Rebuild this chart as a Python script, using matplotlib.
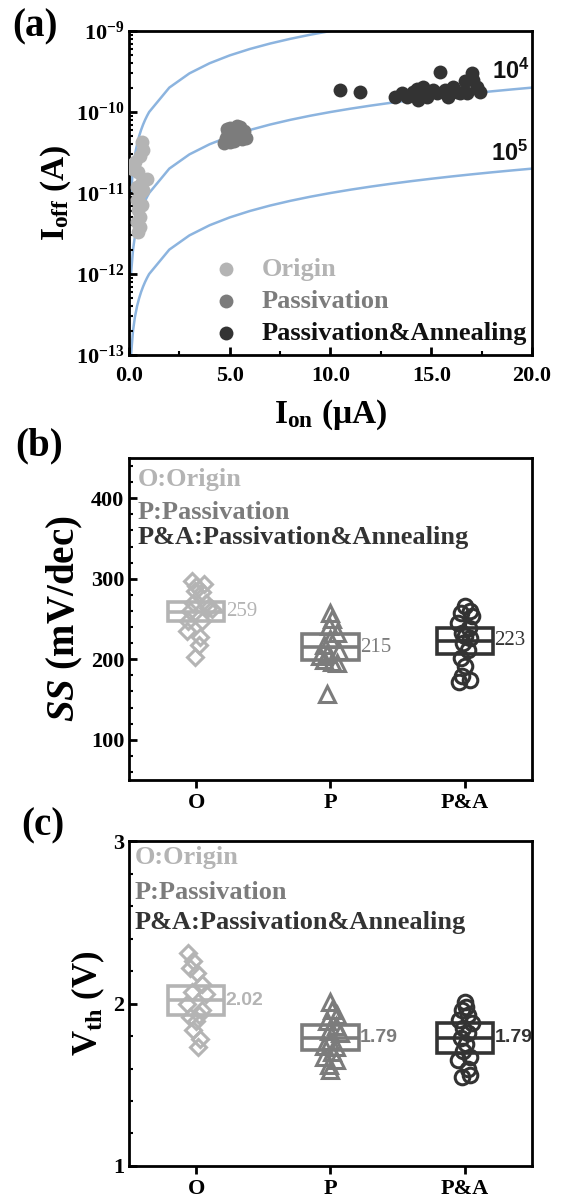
import matplotlib
matplotlib.use('Agg')
import matplotlib.pyplot as plt
import numpy as np
from matplotlib.ticker import LogLocator, MultipleLocator, LogFormatterMathtext, NullFormatter, FormatStrFormatter

plt.rcParams.update({
    'font.family': 'Liberation Serif',
    'font.weight': 'bold',
    'axes.labelweight': 'bold',
    'mathtext.fontset': 'custom',
    'mathtext.rm': 'Liberation Serif:bold',
    'mathtext.it': 'Liberation Serif:italic:bold',
    'mathtext.bf': 'Liberation Serif:bold',
    'mathtext.sf': 'Liberation Sans:bold',
    'axes.linewidth': 2.0,
})

# ---- panel (a) data: Ion (uA) vs Ioff (A)
origin_ion = [0.63, 0.71, 0.55, 0.30, 0.21, 0.46, 0.88, 0.63, 0.38, 0.55, 0.38, 0.63, 0.46, 0.55, 0.38, 0.55, 0.46, 0.13, 0.71]
origin_ioff = [4.3e-11, 3.4e-11, 2.9e-11, 2.4e-11, 2.0e-11, 1.8e-11, 1.5e-11, 1.38e-11, 1.2e-11, 1.0e-11,
               8.2e-12, 7.1e-12, 6.1e-12, 5.1e-12, 4.4e-12, 3.8e-12, 3.3e-12, 2.2e-11, 1.1e-11]
pass_ion = [4.7, 4.8, 4.9, 5.0, 5.1, 5.2, 5.3, 5.4, 5.5, 5.6, 5.7, 5.8, 5.0, 5.35, 4.85]
pass_ioff = [4.2e-11, 4.8e-11, 5.6e-11, 6.4e-11, 5.0e-11, 4.4e-11, 6.0e-11, 5.3e-11, 6.6e-11, 4.6e-11,
             5.8e-11, 4.8e-11, 4.3e-11, 6.8e-11, 6.2e-11]
pa_ion = [10.47, 11.46, 13.2, 13.78, 14.11, 14.36, 14.6, 14.85, 15.1, 15.43, 15.68, 15.85, 16.1, 16.43,
          16.68, 17.0, 17.09, 17.26, 17.42, 16.76, 15.27, 14.77, 13.53, 14.28, 16.26]
pa_ioff = [1.87e-10, 1.78e-10, 1.55e-10, 1.55e-10, 1.78e-10, 1.41e-10, 2.05e-10, 1.7e-10, 1.87e-10, 3.15e-10,
           1.87e-10, 1.55e-10, 2.05e-10, 1.7e-10, 2.43e-10, 2.99e-10, 2.5e-10, 2.05e-10, 1.78e-10, 1.7e-10,
           1.7e-10, 1.55e-10, 1.7e-10, 1.95e-10, 1.78e-10]
ion_grid = [0.1, 0.2, 0.3, 0.4, 0.5, 0.6, 0.7, 0.8, 0.9, 1, 2, 3, 4, 5, 6, 7, 8, 9, 10,
            11, 12, 13, 14, 15, 16, 17, 18, 19, 20]
on_off_ratios = [1e4, 1e5, 1e6]

# ---- panel (b)/(c) data
groups = ['O', 'P', 'P&A']
ss_o = [297, 294, 291, 285, 283, 270, 270, 264, 262, 260, 247, 247, 235, 228, 218, 203]
ss_o_dx = [-0.03, 0.06, 0.0, -0.01, 0.04, 0.07, -0.02, 0.09, 0.12, -0.045, 0.04, -0.06, -0.07, 0.03, 0.02, -0.01]
ss_p = [258, 250, 241, 233, 225, 218, 210, 206, 204, 199, 197, 195, 157]
ss_p_dx = [0.0, 0.01, -0.01, 0.05, 0.0, -0.05, 0.06, -0.025, -0.075, -0.05, 0.01, 0.05, -0.025]
ss_pa = [266, 260, 258, 254, 245, 239, 232, 229, 226, 220, 212, 202, 191, 179, 174, 172]
ss_pa_dx = [0.0, 0.04, -0.03, 0.05, -0.05, 0.03, -0.02, 0.0, 0.04, -0.01, 0.02, -0.03, 0.0, -0.02, 0.04, -0.04]
ss_mean = ['259', '215', '223']
ss_half = [12, 16, 16]

vth_o = [2.31, 2.26, 2.22, 2.19, 2.12, 2.07, 2.06, 2.0, 1.96, 1.93, 1.92, 1.89, 1.84, 1.78, 1.73]
vth_o_dx = [-0.06, -0.02, -0.045, 0.005, 0.04, -0.03, 0.07, -0.07, 0.04, 0.02, -0.045, 0.0, -0.02, 0.03, 0.01]
vth_p = [2.01, 1.96, 1.93, 1.89, 1.86, 1.83, 1.82, 1.77, 1.74, 1.73, 1.70, 1.67, 1.65, 1.62, 1.59]
vth_p_dx = [0.0, 0.01, 0.05, -0.025, 0.04, -0.01, 0.07, 0.0, -0.05, 0.04, 0.01, -0.05, 0.04, -0.01, 0.0]
vth_pa = [2.01, 1.98, 1.96, 1.93, 1.90, 1.88, 1.85, 1.82, 1.79, 1.75, 1.71, 1.67, 1.65, 1.60, 1.55, 1.56]
vth_pa_dx = [0.0, 0.01, -0.02, 0.02, -0.04, 0.05, -0.01, 0.02, -0.03, 0.01, -0.01, 0.04, -0.05, 0.02, -0.02, 0.04]
vth_mean = ['2.02', '1.79', '1.79']
vth_half = [0.09, 0.075, 0.092]

c_o, c_p, c_pa = '#b4b4b4', '#7c7c7c', '#333333'
colors = [c_o, c_p, c_pa]
markers = ['D', '^', 'o']
msizes = [8, 11, 10.5]
blue = '#8cb4df'

fig = plt.figure(figsize=(5.65, 11.97), dpi=100)


def style_ticks(ax):
    ax.tick_params(axis='both', which='major', labelsize=16, width=2, length=6)
    ax.tick_params(axis='both', which='minor', width=1.5, length=3)


# ---------------- (a)
ax1 = fig.add_axes([0.2283, 0.7034, 0.7133, 0.2707])
for r in on_off_ratios:
    ax1.plot(ion_grid, np.array(ion_grid) * 1e-6 / r, color=blue, lw=1.8, zorder=1)
ax1.scatter(origin_ion, origin_ioff, s=100, color=c_o, label='Origin', zorder=3, linewidths=0)
ax1.scatter(pass_ion, pass_ioff, s=100, color=c_p, label='Passivation', zorder=3, linewidths=0)
ax1.scatter(pa_ion, pa_ioff, s=100, color=c_pa, label='Passivation&Annealing', zorder=3, linewidths=0)
ax1.set_yscale('log')
ax1.set_xlim(0, 20)
ax1.set_ylim(1e-13, 1e-9)
ax1.set_xticks([0, 5, 10, 15, 20])
ax1.xaxis.set_major_formatter(FormatStrFormatter('%.1f'))
ax1.xaxis.set_minor_locator(MultipleLocator(2.5))
ax1.yaxis.set_major_locator(LogLocator(base=10, numticks=10))
ax1.yaxis.set_minor_locator(LogLocator(base=10, subs=np.arange(2, 10), numticks=10))
ax1.yaxis.set_minor_formatter(NullFormatter())
ax1.yaxis.set_major_formatter(LogFormatterMathtext())
ax1.tick_params(direction='in', which='both')
style_ticks(ax1)
ax1.tick_params(axis='x', pad=8)
ax1.set_xlabel(r'I$_{\rm on}$ (μA)', fontsize=24, labelpad=8)
ax1.set_ylabel(r'I$_{\rm off}$ (A)', fontsize=24, labelpad=2)
ax1.text(18.0, 3.2e-10, r'$\mathsf{10^4}$', fontsize=17, ha='left', va='center', color='#111111')
ax1.text(17.95, 3.1e-11, r'$\mathsf{10^5}$', fontsize=17, ha='left', va='center', color='#111111')
leg = ax1.legend(loc='lower left', bbox_to_anchor=(0.13, -0.025), frameon=False, fontsize=19,
                 scatterpoints=1, handletextpad=0.35, labelspacing=0.32, borderpad=0.2,
                 labelcolor=[c_o, c_p, '#111111'])

# ---------------- (b) and (c)
def group_panel(ax, data, dxs, means, halves, ylim, ylabel, ylabel_size, mean_font, label_x, label_ys):
    for i, (vals, dx) in enumerate(zip(data, dxs)):
        cat = i + 1
        ax.plot(cat + np.array(dx), vals, linestyle='none', marker=markers[i], ms=msizes[i],
                mfc='none', mec=colors[i], mew=2.2, zorder=3)
        m = float(means[i])
        ax.bar(cat, 2 * halves[i], width=0.42, bottom=m - halves[i], fill=False,
               edgecolor=colors[i], lw=2.6, zorder=2)
        ax.hlines(m, cat - 0.21, cat + 0.21, color=colors[i], lw=2.6, zorder=2)
        ax.text(cat + 0.22, m, means[i], color=colors[i], ha='left', va='center',
                clip_on=False, **mean_font)
    ax.set_xlim(0.5, 3.5)
    ax.set_ylim(*ylim)
    ax.set_xticks([1, 2, 3])
    ax.set_xticklabels(groups)
    ax.tick_params(axis='x', direction='out')
    ax.tick_params(axis='y', direction='in', which='both')
    style_ticks(ax)
    ax.set_ylabel(ylabel, fontsize=ylabel_size)
    texts = ['O:Origin', 'P:Passivation', 'P&A:Passivation&Annealing']
    for t, y, c in zip(texts, label_ys, colors):
        ax.text(label_x, y, t, transform=ax.transAxes, color=c, fontsize=19, ha='left', va='center')


ax2 = fig.add_axes([0.2283, 0.3484, 0.7133, 0.2690])
group_panel(ax2, [ss_o, ss_p, ss_pa], [ss_o_dx, ss_p_dx, ss_pa_dx], ss_mean, ss_half, (50, 450),
            r'$\it{SS}$ (mV/dec)', 28, dict(fontsize=15, fontweight='normal'), 0.022, [0.932, 0.832, 0.752])
ax2.yaxis.set_major_locator(MultipleLocator(100))
ax2.yaxis.set_minor_locator(MultipleLocator(20))

ax3 = fig.add_axes([0.2283, 0.0259, 0.7133, 0.2715])
group_panel(ax3, [vth_o, vth_p, vth_pa], [vth_o_dx, vth_p_dx, vth_pa_dx], vth_mean, vth_half, (1, 3),
            r'V$_{\rm th}$ (V)', 25, dict(fontsize=14, fontweight='bold', family='Liberation Sans'),
            0.015, [0.948, 0.843, 0.748])
ax3.yaxis.set_major_locator(MultipleLocator(1))
ax3.yaxis.set_minor_locator(MultipleLocator(0.2))

fig.text(0.022, 0.9774, '(a)', fontsize=28, va='center', ha='left')
fig.text(0.027, 0.6274, '(b)', fontsize=28, va='center', ha='left')
fig.text(0.038, 0.310, '(c)', fontsize=28, va='center', ha='left')

fig.savefig('out.png', dpi=100)
